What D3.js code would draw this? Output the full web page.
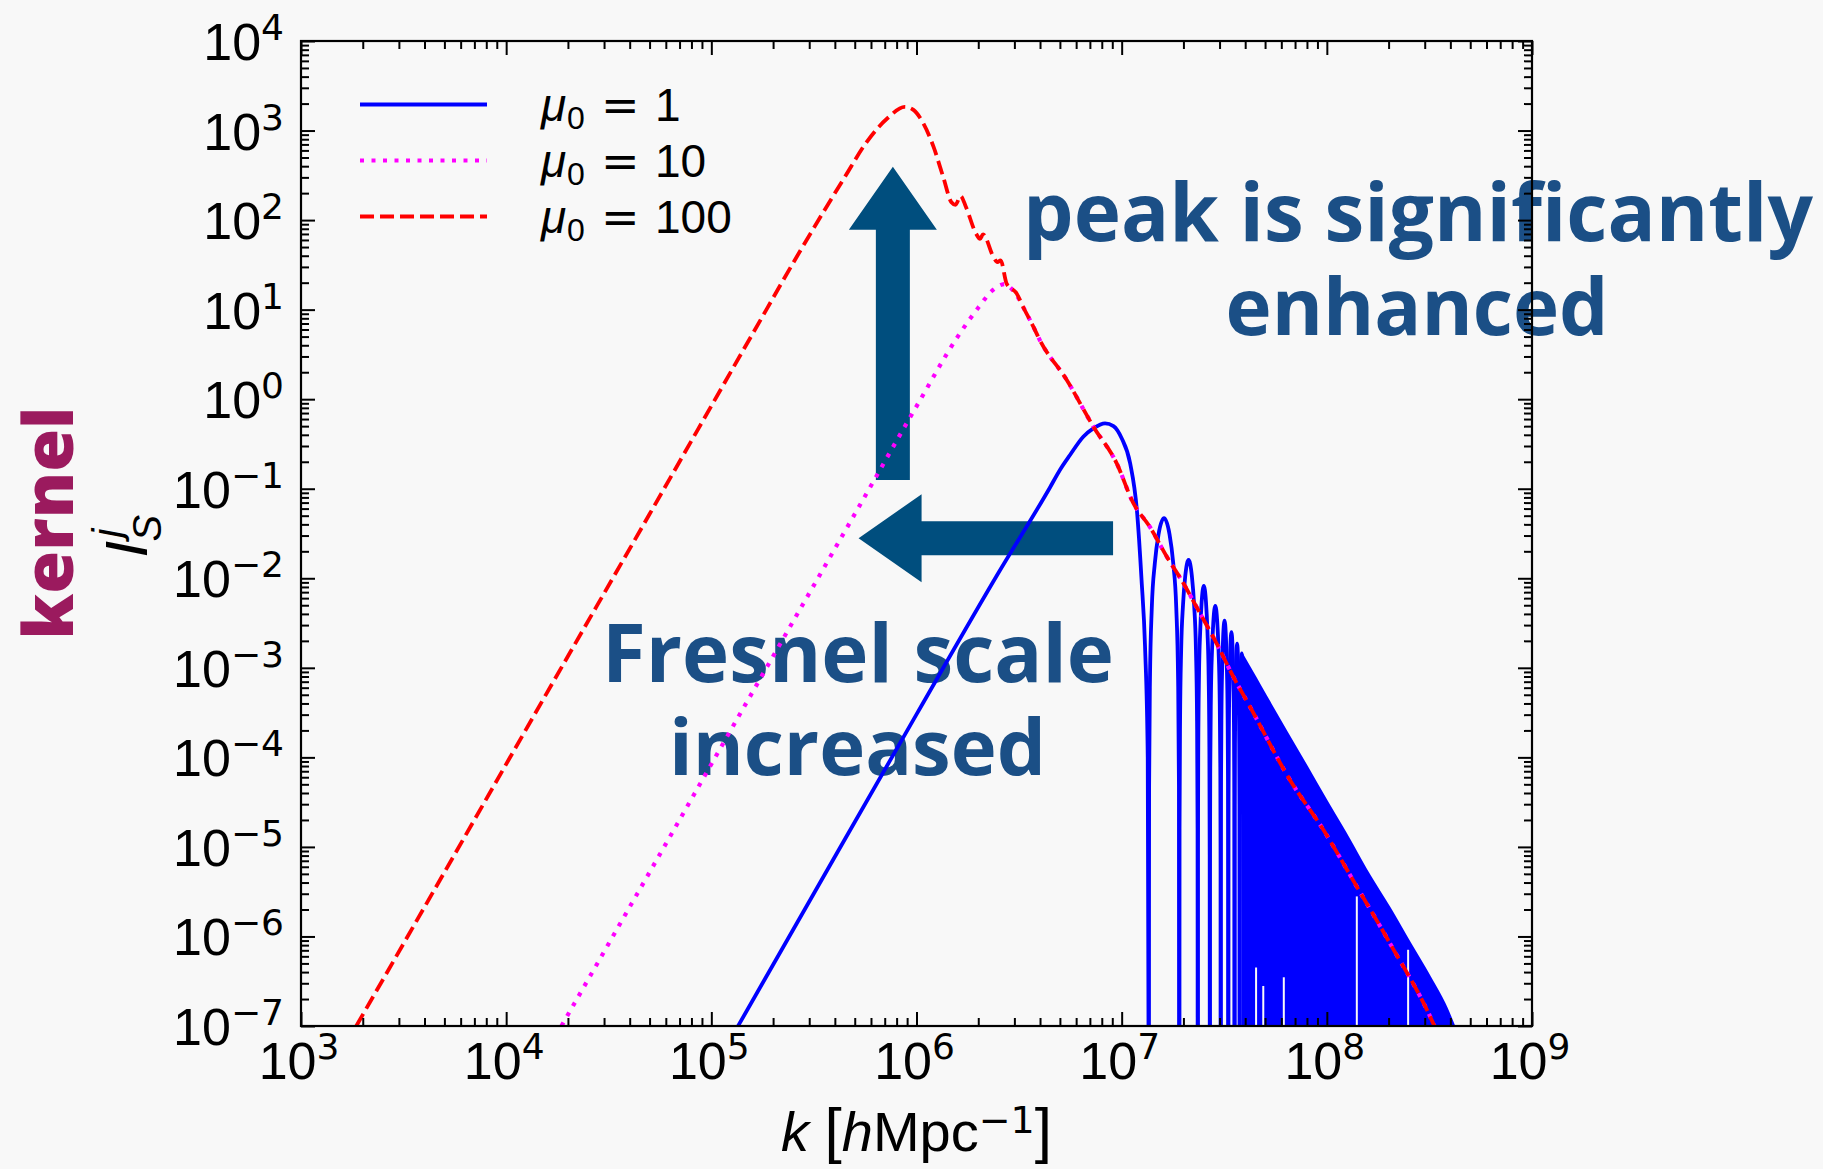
<!DOCTYPE html>
<html>
<head>
<meta charset="utf-8">
<script src="https://cdn.jsdelivr.net/npm/d3@7/dist/d3.min.js"></script>
<style>
html, body { margin:0; padding:0; background:#f8f8f8; }
svg { display:block; }
</style>
</head>
<body>
<svg id="chart" width="1823" height="1169"></svg>
<script>
// ---------------- data ----------------
const xTickExponents = [3, 4, 5, 6, 7, 8, 9];
const yTickExponents = [4, 3, 2, 1, 0, -1, -2, -3, -4, -5, -6, -7];
const legendValues = ["1", "10", "100"];          // mu_0 values
const seriesColors = ["#0000ff", "#ff00ff", "#ff0000"];

// mu0 = 100 (red dashed)
const kRed = [1.86e3, 5.01e3, 1.58e4, 5.01e4, 1.58e5, 2.75e5, 4.47e5, 5.75e5, 7.24e5, 8.77e5, 9.66e5, 1.08e6, 1.21e6, 1.35e6, 1.48e6, 1.55e6, 1.64e6, 1.74e6, 1.95e6, 2.04e6, 2.11e6, 2.37e6, 2.48e6, 2.57e6, 2.75e6, 3.08e6, 3.31e6, 3.71e6, 3.99e6, 5.40e6, 7.28e6, 9.46e6, 1.14e7, 1.37e7, 1.66e7, 2.00e7, 2.41e7, 2.90e7, 3.50e7, 4.22e7, 6.61e7, 9.62e7, 1.40e8, 2.03e8, 3.30e8, 3.39e8];
const iRed = [1.0e-7, 5.25e-6, 5.25e-4, 5.25e-2, 5.25, 47.9, 302, 759, 1380, 1840, 1700, 1200, 661, 302, 158, 148, 186, 141, 70.8, 61.7, 69.2, 38.9, 33.9, 35.5, 19.5, 15.1, 10.7, 6.46, 4.57, 1.64, 0.493, 0.192, 0.0689, 0.0377, 0.0174, 8.79e-3, 4.06e-3, 1.88e-3, 7.96e-4, 3.68e-4, 5.60e-5, 1.55e-5, 3.60e-6, 8.39e-7, 1.07e-7, 9.3e-8];

// mu0 = 10 (magenta dotted)
const kMag = [1.86e4, 5.01e4, 1.58e5, 5.01e5, 1.0e6, 1.58e6, 2.0e6, 2.36e6, 2.70e6, 2.88e6, 3.08e6, 3.31e6, 3.71e6, 3.99e6, 5.40e6, 7.28e6, 9.46e6, 1.14e7, 1.37e7, 1.66e7, 2.00e7, 2.41e7, 2.90e7, 3.50e7, 4.22e7, 6.61e7, 9.62e7, 1.40e8, 2.03e8, 3.30e8, 3.39e8];
const iMag = [1.0e-7, 5.25e-6, 5.25e-4, 5.25e-2, 0.832, 4.90, 10.5, 16.6, 19.3, 17.4, 14.5, 10.7, 6.46, 4.57, 1.64, 0.493, 0.192, 0.0689, 0.0377, 0.0174, 8.79e-3, 4.06e-3, 1.88e-3, 7.96e-4, 3.68e-4, 5.60e-5, 1.55e-5, 3.60e-6, 8.39e-7, 1.07e-7, 9.3e-8];

// mu0 = 1 (blue solid): rise and main lobe
const kBlue = [1.35e5, 3.16e5, 1.0e6, 2.51e6, 4.48e6, 5.0e6, 5.6e6, 6.5e6, 7.28e6, 8.3e6, 9.12e6, 1.0e7, 1.10e7, 1.19e7, 1.25e7, 1.30e7, 1.34e7, 1.355e7];
const iBlue = [1.0e-7, 3.02e-6, 3.02e-4, 0.0115, 0.104, 0.162, 0.238, 0.381, 0.473, 0.538, 0.501, 0.366, 0.192, 0.0532, 9.57e-3, 1.72e-3, 1.0e-4, 1.0e-8];
// blue oscillation: zeros and lobe maxima of the resolved lobes
const blueNullK = [1.355e7, 1.91e7, 2.35e7, 2.69e7, 3.04e7, 3.31e7, 3.55e7, 3.76e7, 3.94e7];
const bluePeakI = [0.0468, 0.016, 8.2e-3, 4.91e-3, 3.37e-3, 2.51e-3, 1.86e-3, 1.45e-3];
// blue unresolved oscillations: upper envelope
const kBlueEnv = [3.94e7, 4.47e7, 5.01e7, 6.31e7, 7.94e7, 1.0e8, 1.26e8, 1.58e8, 2.0e8, 2.51e8, 3.16e8, 3.80e8, 4.13e8];
const iBlueEnv = [1.26e-3, 7.59e-4, 4.79e-4, 1.91e-4, 7.76e-5, 3.09e-5, 1.26e-5, 5.01e-6, 2.09e-6, 8.51e-7, 3.47e-7, 1.58e-7, 1.0e-7];
// white sampling gaps inside the blue band
const kGaps = [4.52e7, 4.90e7, 6.17e7, 1.40e8, 2.49e8];
const iGapTop = [4.5e-7, 2.8e-7, 3.5e-7, 2.8e-6, 7.1e-7];

// annotation arrows (data coordinates)
const arrowUpK = 7.67e5, arrowUpI = [0.125, 394];
const arrowLeftI = 0.028, arrowLeftK = [9.08e6, 5.22e5];
const annotationLines = ["peak is significantly", "enhanced", "Fresnel scale", "increased"];

// ---------------- drawing ----------------
const W = 1823, H = 1169;
const M = {left: 301, right: 1532, top: 41, bottom: 1026};
const svg = d3.select("#chart");
const x = d3.scaleLog().domain([1e3, 1e9]).range([M.left, M.right]);
const y = d3.scaleLog().domain([1e-7, 1e4]).range([M.bottom, M.top]);

const labFont = "'Liberation Sans', Arial, sans-serif";
const supFont = "'DejaVu Sans', sans-serif";
const annFont = "'Open Sans', 'Noto Sans', sans-serif";
const annColor = "#1b4f86", arrowColor = "#004e7e", kernelColor = "#9b1a5e";
const LW = 3.8;

svg.append("rect").attr("width", W).attr("height", H).attr("fill", "#f8f8f8");

function fitText(t, target) {
  const w = t.node().getComputedTextLength();
  const fs = +t.attr("font-size");
  t.attr("font-size", fs * target / w);
}

// ---- annotation layer (under the plot) ----
const ann = svg.append("g");
function arrowPath(x0, y0, x1, y1, sw, hw, hl) {
  const dx = x1 - x0, dy = y1 - y0, L = Math.hypot(dx, dy);
  const ux = dx / L, uy = dy / L, px = -uy, py = ux;
  const bx = x1 - ux * hl, by = y1 - uy * hl;
  const pts = [[x0 + px * sw, y0 + py * sw], [bx + px * sw, by + py * sw], [bx + px * hw, by + py * hw],
               [x1, y1], [bx - px * hw, by - py * hw], [bx - px * sw, by - py * sw], [x0 - px * sw, y0 - py * sw]];
  return "M" + pts.map(p => p.join(",")).join("L") + "Z";
}
ann.append("path")
  .attr("d", arrowPath(x(arrowUpK), y(arrowUpI[0]), x(arrowUpK), y(arrowUpI[1]), 17, 44, 63))
  .attr("fill", arrowColor);
ann.append("path")
  .attr("d", arrowPath(x(arrowLeftK[0]), y(arrowLeftI), x(arrowLeftK[1]), y(arrowLeftI), 17, 44, 63))
  .attr("fill", arrowColor);

const annLayout = [[1418, 241, 790], [1417, 335, 383], [858, 682, 512], [857.5, 775, 377]];
annotationLines.forEach((s, i) => {
  const [cx, by, tw] = annLayout[i];
  const t = ann.append("text").attr("x", cx).attr("y", by).attr("text-anchor", "middle")
    .attr("font-family", annFont).attr("font-weight", 700).attr("font-size", 70)
    .attr("fill", annColor).text(s);
  fitText(t, tw);
});

const kernel = svg.append("text").attr("transform", "translate(73,523) rotate(-90)")
  .attr("text-anchor", "middle").attr("font-family", annFont).attr("font-weight", 800)
  .attr("font-size", 70).attr("fill", kernelColor).text("kernel");
fitText(kernel, 233);

// ---- plot ----
svg.append("clipPath").attr("id", "clip").append("rect")
  .attr("x", M.left).attr("y", M.top).attr("width", M.right - M.left).attr("height", M.bottom - M.top);
const plot = svg.append("g").attr("clip-path", "url(#clip)");

const line = d3.line().x(d => x(d[0])).y(d => y(d[1])).curve(d3.curveMonotoneX);
const pxLine = d3.line().curve(d3.curveMonotoneX);

// blue: rise + main lobe
plot.append("path").datum(d3.zip(kBlue, iBlue)).attr("d", line)
  .attr("fill", "none").attr("stroke", seriesColors[0]).attr("stroke-width", LW);

// blue: resolved lobes (shape template: fraction of lobe width, decades below lobe maximum)
const lobeProfile = [[0, -8], [0.012, -3], [0.04, -1.8], [0.1, -1.0], [0.2, -0.5], [0.32, -0.18], [0.5, 0],
                     [0.68, -0.18], [0.8, -0.5], [0.9, -1.0], [0.96, -1.8], [0.988, -3], [1, -8]];
for (let i = 0; i < bluePeakI.length; i++) {
  const l0 = Math.log10(blueNullK[i]), l1 = Math.log10(blueNullK[i + 1]);
  const lp = Math.log10(bluePeakI[i]);
  const pts = lobeProfile.map(([u, d]) => [x(Math.pow(10, l0 + u * (l1 - l0))), y(Math.pow(10, lp + d))]);
  plot.append("path").attr("d", pxLine(pts)).attr("fill", "none")
    .attr("stroke", seriesColors[0]).attr("stroke-width", LW);
}
// blue: unresolved dense oscillations
const area = d3.area().x(d => x(d[0])).y0(M.bottom + 30).y1(d => y(d[1])).curve(d3.curveMonotoneX);
plot.append("path").datum(d3.zip(kBlueEnv, iBlueEnv)).attr("d", area)
  .attr("fill", seriesColors[0]).attr("stroke", seriesColors[0]).attr("stroke-width", LW);
kGaps.forEach((k, i) => {
  plot.append("line").attr("x1", x(k)).attr("x2", x(k)).attr("y1", y(iGapTop[i])).attr("y2", M.bottom + 5)
    .attr("stroke", "#f8f8f8").attr("stroke-width", 2);
});

// magenta dotted
plot.append("path").datum(d3.zip(kMag, iMag)).attr("d", line)
  .attr("fill", "none").attr("stroke", seriesColors[1]).attr("stroke-width", 4.2)
  .attr("stroke-dasharray", "4,7.5");
// red dashed
plot.append("path").datum(d3.zip(kRed, iRed)).attr("d", line)
  .attr("fill", "none").attr("stroke", seriesColors[2]).attr("stroke-width", LW)
  .attr("stroke-dasharray", "14,6");

// ---- ticks ----
const xMajor = xTickExponents.map(e => Math.pow(10, e));
const yMajor = yTickExponents.map(e => Math.pow(10, e));
const xMinor = d3.range(d3.min(xTickExponents), d3.max(xTickExponents))
  .flatMap(e => d3.range(2, 10).map(m => m * Math.pow(10, e)));
const yMinor = d3.range(d3.min(yTickExponents), d3.max(yTickExponents))
  .flatMap(e => d3.range(2, 10).map(m => m * Math.pow(10, e)));

function addTicks(axisFn, scale, values, size, tx, ty) {
  svg.append("g").attr("transform", `translate(${tx},${ty})`)
    .call(axisFn(scale).tickValues(values).tickSize(size).tickSizeOuter(0).tickFormat(""))
    .call(g => g.select(".domain").remove())
    .selectAll("line").attr("stroke", "#000").attr("stroke-width", 2);
}
addTicks(d3.axisBottom, x, xMajor, -14, 0, M.bottom);
addTicks(d3.axisBottom, x, xMinor, -8, 0, M.bottom);
addTicks(d3.axisTop, x, xMajor, -14, 0, M.top);
addTicks(d3.axisTop, x, xMinor, -8, 0, M.top);
addTicks(d3.axisLeft, y, yMajor, -14, M.left, 0);
addTicks(d3.axisLeft, y, yMinor, -8, M.left, 0);
addTicks(d3.axisRight, y, yMajor, -14, M.right, 0);
addTicks(d3.axisRight, y, yMinor, -8, M.right, 0);

svg.append("rect").attr("x", M.left).attr("y", M.top).attr("width", M.right - M.left)
  .attr("height", M.bottom - M.top).attr("fill", "none").attr("stroke", "#000").attr("stroke-width", 2.2);

// ---- tick labels ----
function expStr(e) { return e < 0 ? "\u2212" + (-e) : "" + e; }
yTickExponents.forEach(e => {
  const t = svg.append("text").attr("x", M.left - 17).attr("y", y(Math.pow(10, e)) + 19)
    .attr("text-anchor", "end").attr("font-family", labFont).attr("font-size", 52).attr("fill", "#000");
  t.append("tspan").text("10");
  t.append("tspan").attr("font-family", supFont).attr("font-size", 36).attr("dy", -20).text(expStr(e));
});
xTickExponents.forEach(e => {
  const t = svg.append("text").attr("x", x(Math.pow(10, e)) - 2).attr("y", M.bottom + 53)
    .attr("text-anchor", "middle").attr("font-family", labFont).attr("font-size", 52).attr("fill", "#000");
  t.append("tspan").text("10");
  t.append("tspan").attr("font-family", supFont).attr("font-size", 36).attr("dy", -20).text(expStr(e));
});

// ---- axis labels ----
const xl = svg.append("text").attr("x", (M.left + M.right) / 2).attr("y", M.bottom + 125)
  .attr("text-anchor", "middle").attr("font-family", labFont).attr("font-size", 56).attr("fill", "#000");
xl.append("tspan").attr("font-style", "italic").text("k");
xl.append("tspan").text(" ");
xl.append("tspan").attr("font-size", 62).text("[");
xl.append("tspan").attr("font-style", "italic").text("h");
xl.append("tspan").text("Mpc");
xl.append("tspan").attr("font-family", supFont).attr("font-size", 38).attr("dy", -18).text("\u22121");
xl.append("tspan").attr("font-size", 62).attr("dy", 18).text("]");

const yl = svg.append("g").attr("transform", `translate(147,${(M.top + M.bottom) / 2}) rotate(-90)`);
yl.append("text").attr("x", -24).attr("y", 0).attr("font-family", labFont).attr("font-style", "italic")
  .attr("font-size", 60).attr("fill", "#000").text("I");
yl.append("text").attr("x", -8).attr("y", 14).attr("font-family", labFont).attr("font-style", "italic")
  .attr("font-size", 40).attr("fill", "#000").text("S");
yl.append("text").attr("x", -4).attr("y", -26).attr("font-family", labFont).attr("font-style", "italic")
  .attr("font-size", 40).attr("fill", "#000").text("j");

// ---- legend ----
const legendY = [104.5, 160.5, 216.5];
const legendDash = [null, "4,7.5", "14,6"];
legendValues.forEach((v, i) => {
  const ly = legendY[i];
  svg.append("line").attr("x1", 360).attr("x2", 487).attr("y1", ly).attr("y2", ly)
    .attr("stroke", seriesColors[i]).attr("stroke-width", i === 1 ? 4.2 : LW)
    .attr("stroke-dasharray", legendDash[i]);
  const t = svg.append("text").attr("y", ly + 16).attr("font-family", labFont).attr("font-size", 46).attr("fill", "#000");
  t.append("tspan").attr("x", 541).attr("font-style", "italic").text("\u03bc");
  t.append("tspan").attr("x", 567).attr("font-size", 32).attr("dy", 8).text("0");
  t.append("tspan").attr("x", 601).attr("font-family", supFont).attr("dy", -8).text("=");
  t.append("tspan").attr("x", 655).text(v);
});
</script>
</body>
</html>
